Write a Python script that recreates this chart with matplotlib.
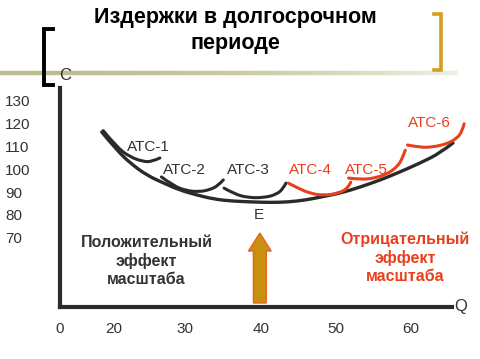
import numpy as np
import matplotlib
matplotlib.use("Agg")
import matplotlib.pyplot as plt
import matplotlib.patches as mpatches
from matplotlib.path import Path
from matplotlib.lines import Line2D
from matplotlib.collections import LineCollection

plt.rcParams['font.family'] = ['Liberation Sans', 'DejaVu Sans']

# long-run average cost (envelope), Q and C
lrac_q = [18.5, 20.5, 22.3, 24.5, 26.8, 28.9, 31.2, 33.5, 35.9, 38.9, 41.2, 43.5, 45.9, 47.9, 50.5, 53.2, 55.9, 58.5, 61.2, 63.9, 65.6]
lrac_c = [116.4, 108.5, 102.8, 97.5, 94.0, 91.0, 88.8, 87.0, 86.1, 85.7, 85.5, 85.7, 86.6, 87.9, 89.6, 92.3, 95.4, 98.9, 102.8, 107.2, 111.6]

# short-run ATC curves
atc1_q = [18.7, 20.5, 22.3, 24.1, 25.2, 26.3]
atc1_c = [117.0, 109.8, 105.4, 103.4, 103.4, 105.0]
atc2_q = [26.5, 28.1, 29.9, 31.6, 32.9, 34.1, 34.8]
atc2_c = [96.7, 92.8, 90.6, 90.2, 91.0, 92.8, 95.4]
atc3_q = [34.9, 36.3, 38.1, 40.3, 41.9, 42.8, 43.2]
atc3_c = [91.8, 89.2, 87.6, 87.6, 89.0, 91.4, 94.0]
atc4_q = [43.5, 44.8, 46.5, 48.3, 50.1, 51.5, 51.9]
atc4_c = [94.0, 91.8, 89.4, 88.6, 89.4, 91.6, 94.4]
atc5_q = [51.6, 53.2, 54.9, 56.8, 58.1, 58.8, 59.2]
atc5_c = [96.2, 95.6, 96.0, 98.0, 101.1, 104.6, 108.4]
atc6_q = [59.5, 61.2, 62.9, 64.8, 66.1, 66.8, 67.1]
atc6_c = [110.7, 109.6, 109.8, 111.2, 113.6, 116.4, 120.0]

atc_names = ['ATC-1', 'ATC-2', 'ATC-3', 'ATC-4', 'ATC-5', 'ATC-6']
label_q = [24.8, 29.6, 38.1, 46.5, 54.0, 62.5]
label_c = [109.8, 99.7, 99.7, 99.7, 99.7, 120.4]

x_tick_pos = [12.9, 20.1, 29.7, 39.9, 49.9, 60]
x_tick_labels = ['0', '20', '30', '40', '50', '60']
y_ticks = [130, 120, 110, 100, 90, 80, 70]

# point E (minimum of LRAC) and the arrow under it
e_q, e_c = 39.6, 80.0
arrow_q, arrow_base, arrow_top = 39.7, 41.4, 72.1

DARK = '#2a2a2a'
GREY = '#333333'
RED = '#e8401c'
GOLD = '#d49f1c'

fig = plt.figure(figsize=(4.8, 3.59), dpi=100)
W, H = 480, 359

def fx(x):
    return x / W

def fy(y):
    return 1 - y / H

def smooth_path(q, c):
    # quadratic bezier path using the read points as control points
    pts = list(zip(q, c))
    verts = [pts[0]]
    codes = [Path.MOVETO]
    for i in range(1, len(pts) - 1):
        nxt = pts[i + 1] if i == len(pts) - 2 else ((pts[i][0] + pts[i + 1][0]) / 2, (pts[i][1] + pts[i + 1][1]) / 2)
        verts += [pts[i], nxt]
        codes += [Path.CURVE3, Path.CURVE3]
    return Path(verts, codes)

# title
fig.text(fx(235), fy(17), 'Издержки в долгосрочном', ha='center', va='center',
         fontsize=15.5, fontweight='bold', color='black')
fig.text(fx(235), fy(43), 'периоде', ha='center', va='center',
         fontsize=15.5, fontweight='bold', color='black')

# olive gradient rule
n = 80
xs = np.linspace(0, 458, n + 1)
segs = [[(fx(xs[i]), fy(73)), (fx(xs[i + 1]), fy(73))] for i in range(n)]
c0 = np.array(matplotlib.colors.to_rgb('#bdbc8c'))
c1 = np.array(matplotlib.colors.to_rgb('#f0f0e6'))
cols = [c0 + (c1 - c0) * (i / n) ** 2 for i in range(n)]
fig.add_artist(LineCollection(segs, colors=cols, linewidths=3.2, transform=fig.transFigure))

# brackets
fig.add_artist(Line2D([fx(53), fx(44), fx(44), fx(53)], [fy(29), fy(29), fy(85), fy(85)],
                      color='black', lw=2.8, solid_joinstyle='miter', transform=fig.transFigure))
fig.add_artist(Line2D([fx(434), fx(441), fx(441), fx(434)], [fy(14), fy(14), fy(70), fy(70)],
                      color=GOLD, lw=2.6, solid_joinstyle='miter', transform=fig.transFigure))

ax = fig.add_axes([fx(60), fy(307), fx(452) - fx(60), fy(88) - fy(307)])
ax.set_xlim(13.2, 65.47)
ax.set_ylim(39.65, 135.7)
for s in ['top', 'right']:
    ax.spines[s].set_visible(False)
for s in ['left', 'bottom']:
    ax.spines[s].set_linewidth(3)
    ax.spines[s].set_color(DARK)
ax.patch.set_alpha(0)

ax.set_xticks(x_tick_pos, x_tick_labels)
ax.set_yticks(y_ticks, [str(v) for v in y_ticks])
ax.tick_params(axis='x', length=0, pad=11, labelsize=11, labelcolor=GREY)
ax.tick_params(axis='y', length=0, pad=39.6, labelsize=11, labelcolor=GREY)
for t in ax.get_yticklabels():
    t.set_horizontalalignment('left')

ax.add_patch(mpatches.PathPatch(smooth_path(lrac_q, lrac_c), facecolor='none', edgecolor=DARK,
                                lw=2.4, capstyle='round', clip_on=False))
curves = [(atc1_q, atc1_c), (atc2_q, atc2_c), (atc3_q, atc3_c),
          (atc4_q, atc4_c), (atc5_q, atc5_c), (atc6_q, atc6_c)]
for i, (q, c) in enumerate(curves):
    col = DARK if i < 3 else RED
    ax.add_patch(mpatches.PathPatch(smooth_path(q, c), facecolor='none', edgecolor=col,
                                    lw=2.2, capstyle='round', clip_on=False))
    ax.text(label_q[i], label_c[i], atc_names[i], ha='center', va='center',
            fontsize=11, color=GREY if i < 3 else RED, clip_on=False)

ax.text(e_q, e_c, 'E', ha='center', va='center', fontsize=11, color=GREY)

arrow = mpatches.FancyArrow(arrow_q, arrow_base, 0, arrow_top - arrow_base, width=1.73,
                            head_width=3.07, head_length=7.9, length_includes_head=True,
                            facecolor='#c8900c', edgecolor='#e8642a', lw=1)
ax.add_patch(arrow)

ax.text(24.5, 59.8, 'Положительный\nэффект\nмасштаба', ha='center', va='center',
        fontsize=11.5, fontweight='bold', color=GREY, linespacing=1.25)
ax.text(59.2, 61.1, 'Отрицательный\nэффект\nмасштаба', ha='center', va='center',
        fontsize=11.5, fontweight='bold', color=RED, linespacing=1.25, clip_on=False)

fig.text(fx(65), fy(76), 'C', ha='center', va='center', fontsize=12, color=GREY)
fig.text(fx(461), fy(307), 'Q', ha='center', va='center', fontsize=12, color=GREY)

fig.savefig('out.png', dpi=100)
